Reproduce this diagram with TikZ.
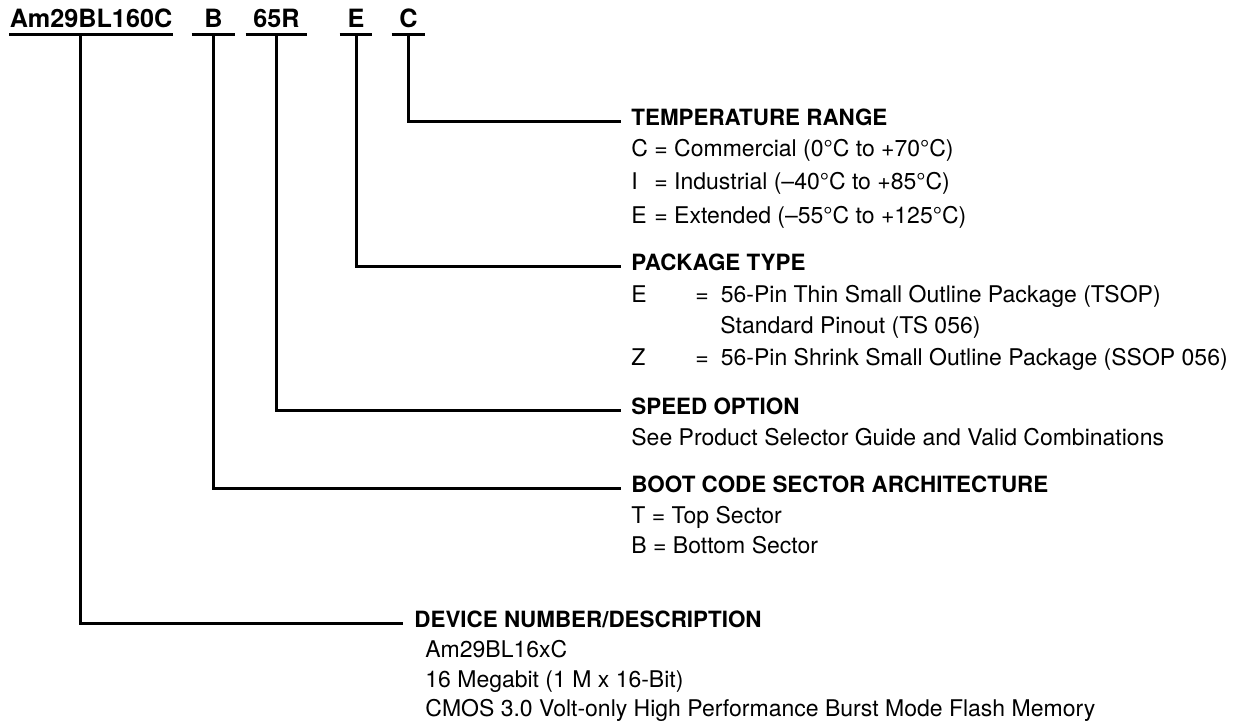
\documentclass[tikz,border=0pt]{standalone}
\usepackage{fontspec}
\setmainfont{TeX Gyre Heros}
\usepackage{tikz}
\usetikzlibrary{positioning}
\newcommand{\codefont}{\fontsize{12.6}{15}\selectfont\bfseries}
\newcommand{\headfont}{\fontsize{11.2}{13}\selectfont\bfseries}
\newcommand{\itemfont}{\fontsize{11.5}{13}\selectfont}
\begin{document}
\begin{tikzpicture}[
    x=0.5pt, y=-0.5pt,
    code/.style={font=\codefont, anchor=base, inner xsep=0pt, inner ysep=3.75pt, text depth=0pt},
    head/.style={font=\headfont, anchor=base west, inner xsep=5pt, inner ysep=0pt},
    item/.style={font=\itemfont, anchor=base west, inner sep=0pt},
    rule/.style={line width=1.5pt},
    lead/.style={line width=1.5pt}]
  \useasboundingbox (0,0) rectangle (1248,723);

  % The ordering code, one underlined field per option.
  \node[code, minimum width=81pt] (dev) at (91,27) {Am29BL160C};
  \node[code, minimum width=21.5pt] (boot) at (213.5,27) {B};
  \node[code, minimum width=30.5pt] (speed) at (276.5,27) {65R};
  \node[code, minimum width=16pt] (pkg) at (356,27) {E};
  \node[code, minimum width=16.5pt] (temp) at (408.5,27) {C};
  \foreach \f in {dev, boot, speed, pkg, temp}
    \draw[rule] (\f.south west) -- (\f.south east);

  % Temperature range.
  \node[head] (temphead) at (621,125) {TEMPERATURE RANGE};
  \node[item] (tempc) at (631,156) {\makebox[11.5pt][l]{C}= Commercial (0°C to +70°C)};
  \node[item] (tempi) at (631,189) {\makebox[11.5pt][l]{I}= Industrial (–40°C to +85°C)};
  \node[item] (tempe) at (631,223) {\makebox[11.5pt][l]{E}= Extended (–55°C to +125°C)};

  % Package type.
  \node[head] (pkghead) at (621,270) {PACKAGE TYPE};
  \node[item] (pkge) at (631,302) {\makebox[32pt][l]{E}=\hspace{6pt}56-Pin Thin Small Outline Package (TSOP)};
  \node[item] (pkgstd) at (720,333) {Standard Pinout (TS 056)};
  \node[item] (pkgz) at (631,365) {\makebox[32pt][l]{Z}=\hspace{6pt}56-Pin Shrink Small Outline Package (SSOP 056)};

  % Speed option.
  \node[head] (speedhead) at (621,414) {SPEED OPTION};
  \node[item] (speedsee) at (631,445) {See Product Selector Guide and Valid Combinations};

  % Boot code sector architecture.
  \node[head] (boothead) at (621,492) {BOOT CODE SECTOR ARCHITECTURE};
  \node[item] (boott) at (631,523) {T = Top Sector};
  \node[item] (bootb) at (631,553) {B = Bottom Sector};

  % Device number.
  \node[head, inner xsep=5.5pt] (devhead) at (403,627) {DEVICE NUMBER/DESCRIPTION};
  \node[item] (devnum) at (425,657) {Am29BL16xC};
  \node[item] (devsize) at (425,687) {16 Megabit (1 M x 16-Bit)};
  \node[item] (devtech) at (425,716) {CMOS 3.0 Volt-only High Performance Burst Mode Flash Memory};

  % Leaders from each field to its description.
  \draw[lead] (temp.south) |- ([yshift=2pt]temphead.base west);
  \draw[lead] (pkg.south) |- ([yshift=2pt]pkghead.base west);
  \draw[lead] (speed.south) |- ([yshift=2pt]speedhead.base west);
  \draw[lead] (boot.south) |- ([yshift=2pt]boothead.base west);
  \draw[lead] ([xshift=-5.5pt]dev.south) |- ([yshift=2pt]devhead.base west);
\end{tikzpicture}
\end{document}
